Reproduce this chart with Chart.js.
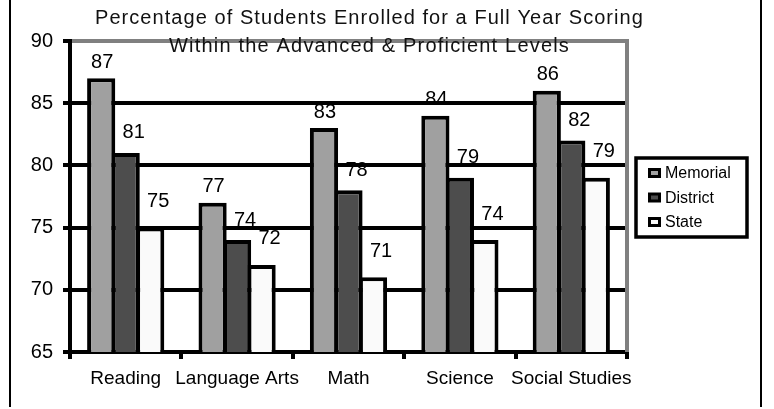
<!DOCTYPE html>
<html>
<head>
<meta charset="utf-8">
<script src="https://cdn.jsdelivr.net/npm/chart.js@4.4.1/dist/chart.umd.min.js"></script>
<style>
  html, body { margin: 0; padding: 0; background: #fff; }
</style>
</head>
<body>
<canvas id="scoreChart" width="774" height="409"></canvas>
<script>
(() => {
  'use strict';

  // data
  const categories = ['Reading', 'Language Arts', 'Math', 'Science', 'Social Studies'];
  const memorial = [87, 77, 83, 84, 86];
  const district = [81, 74, 78, 79, 82];
  const state = [75, 72, 71, 74, 79];
  const yTicks = [65, 70, 75, 80, 85, 90];
  const titleLines = [
    'Percentage of Students Enrolled for a Full Year Scoring',
    'Within the Advanced & Proficient Levels'
  ];

  const FONT = 'Arial, "Liberation Sans", sans-serif';

  // little plugin for the frame, title, legend and value labels
  const decor = {
    id: 'decor',
    beforeDatasetsDraw(chart) {
      const { ctx, chartArea: a } = chart;
      ctx.save();
      // grey right border of the plot
      ctx.strokeStyle = '#808080';
      ctx.lineWidth = 4;
      ctx.beginPath();
      ctx.moveTo(a.right, a.top - 2);
      ctx.lineTo(a.right, a.bottom);
      ctx.stroke();
      ctx.restore();
    },
    afterDatasetsDraw(chart) {
      const ctx = chart.ctx;
      ctx.save();
      ctx.font = '20px ' + FONT;
      ctx.fillStyle = '#000';
      ctx.textAlign = 'center';
      ctx.textBaseline = 'middle';
      chart.data.datasets.forEach((ds, i) => {
        chart.getDatasetMeta(i).data.forEach((bar, j) => {
          ctx.fillText(String(ds.data[j]), bar.x + ds.labelDx, bar.y + ds.labelDy);
        });
      });
      ctx.restore();
    },
    afterDraw(chart) {
      const ctx = chart.ctx;
      ctx.save();

      // outer frame lines
      ctx.strokeStyle = '#000';
      ctx.lineWidth = 2;
      ctx.beginPath();
      ctx.moveTo(10, 0); ctx.lineTo(10, 407);
      ctx.moveTo(761, 0); ctx.lineTo(761, 407);
      ctx.stroke();

      // title, two lines, spaced out a bit like the original
      ctx.fillStyle = '#111';
      ctx.font = '20px ' + FONT;
      ctx.textAlign = 'left';
      ctx.textBaseline = 'middle';
      const widths = [548, 400];
      const ys = [18, 46];
      titleLines.forEach((line, k) => {
        ctx.letterSpacing = '0px';
        const w = ctx.measureText(line).width;
        const ls = (widths[k] - w) / (line.length - 1);
        ctx.letterSpacing = ls.toFixed(2) + 'px';
        ctx.fillText(line, 369 - widths[k] / 2, ys[k]);
      });
      ctx.letterSpacing = '0px';

      // legend box
      const box = { x: 636, y: 158, w: 111, h: 79 };
      ctx.fillStyle = '#fff';
      ctx.fillRect(box.x, box.y, box.w, box.h);
      ctx.strokeStyle = '#000';
      ctx.lineWidth = 3.5;
      ctx.strokeRect(box.x, box.y, box.w, box.h);

      ctx.font = '16px ' + FONT;
      ctx.textBaseline = 'middle';
      chart.data.datasets.forEach((ds, i) => {
        const cy = 173 + i * 24.5;
        ctx.fillStyle = '#000';
        ctx.fillRect(648, cy - 5, 13, 10);
        ctx.fillStyle = ds.backgroundColor;
        ctx.fillRect(651, cy - 2, 7, 4);
        ctx.fillStyle = '#000';
        ctx.fillText(ds.label, 665, cy + 1);
      });

      ctx.restore();
    }
  };

  const ctx = document.getElementById('scoreChart');
  const barStyle = {
    borderColor: '#000',
    borderWidth: 4,
    borderSkipped: 'start',
    barPercentage: 1.15,
    categoryPercentage: 0.66
  };

  new Chart(ctx, {
    type: 'bar',
    data: {
      labels: categories,
      datasets: [
        { label: 'Memorial', data: memorial, backgroundColor: '#a0a0a0', labelDx: 1, labelDy: -16, ...barStyle },
        { label: 'District', data: district, backgroundColor: '#4d4d4d', labelDx: 8, labelDy: -20, ...barStyle },
        { label: 'State', data: state, backgroundColor: '#fafafa', labelDx: 8, labelDy: -26, ...barStyle }
      ]
    },
    options: {
      responsive: false,
      animation: false,
      devicePixelRatio: 1,
      layout: { padding: { top: 41, right: 147, bottom: 0, left: 0 } },
      plugins: {
        legend: { display: false },
        title: { display: false },
        tooltip: { enabled: false }
      },
      scales: {
        x: {
          offset: true,
          afterFit: s => { s.height = 57; },
          grid: {
            offset: true,
            drawOnChartArea: false,
            drawTicks: true,
            tickLength: 7,
            lineWidth: 4,
            color: '#000'
          },
          border: { display: true, color: '#000', width: 4 },
          ticks: {
            color: '#000',
            font: { family: FONT, size: 19 },
            padding: 8,
            maxRotation: 0,
            autoSkip: false
          }
        },
        y: {
          min: yTicks[0],
          max: yTicks[yTicks.length - 1],
          afterFit: s => { s.width = 70; },
          afterBuildTicks: s => { s.ticks = yTicks.map(v => ({ value: v })); },
          grid: {
            color: c => (c.tick && c.tick.value === 90 ? '#808080' : '#000'),
            tickColor: '#000',
            lineWidth: 4,
            tickLength: 7
          },
          border: { display: true, color: '#000', width: 4 },
          ticks: {
            color: '#000',
            font: { family: FONT, size: 20 },
            padding: 10
          }
        }
      }
    },
    plugins: [decor]
  });
})();
</script>
</body>
</html>
